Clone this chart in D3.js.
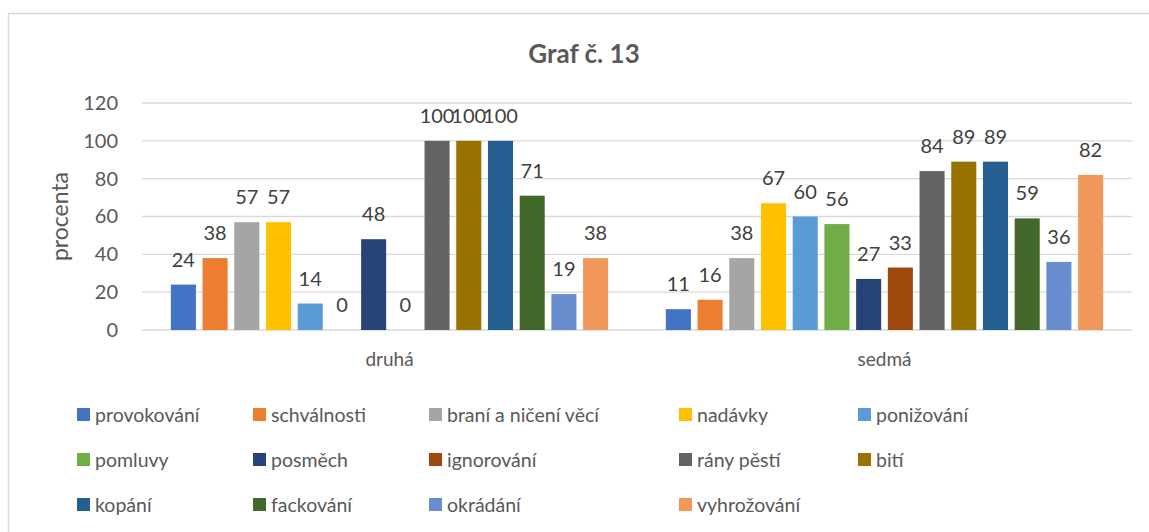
<!DOCTYPE html>
<html>
<head>
<meta charset="utf-8">
<script src="https://cdn.jsdelivr.net/npm/d3@7"></script>
<style>
  body { margin: 0; background: #fff; overflow: hidden; }
  svg { display: block; }
  svg text { font-family: Lato, "Open Sans", sans-serif; fill: #595959; }
</style>
</head>
<body>
<div id="chart"></div>
<script>
// data
const categories = ["druhá", "sedmá"];
const seriesNames = ["provokování", "schválnosti", "braní a ničení věcí", "nadávky", "ponižování",
  "pomluvy", "posměch", "ignorování", "rány pěstí", "bití",
  "kopání", "fackování", "okrádání", "vyhrožování"];
const druhaValues = [24, 38, 57, 57, 14, 0, 48, 0, 100, 100, 100, 71, 19, 38];
const sedmaValues = [11, 16, 38, 67, 60, 56, 27, 33, 84, 89, 89, 59, 36, 82];
const yTicks = [0, 20, 40, 60, 80, 100, 120];

const colors = ["#4472C4", "#ED7D31", "#A5A5A5", "#FFC000", "#5B9BD5",
  "#70AD47", "#264478", "#9E480E", "#636363", "#997300",
  "#255E91", "#43682B", "#698ED0", "#F1975A"];

const rows = categories.map((c, i) => ({
  category: c,
  values: (i === 0 ? druhaValues : sedmaValues)
}));

const width = 1149, height = 532;
const margin = { top: 103, right: 17, bottom: 202, left: 142 };
const innerWidth = width - margin.left - margin.right;
const innerHeight = height - margin.top - margin.bottom;

const svg = d3.select("#chart").append("svg")
  .attr("width", width)
  .attr("height", height);

// frame
svg.append("path")
  .attr("d", `M8.5,${height} V13.5 H${width}`)
  .attr("fill", "none")
  .attr("stroke", "#d9d9d9")
  .attr("stroke-width", 1.5);

const chart = svg.append("g")
  .attr("transform", `translate(${margin.left},${margin.top})`);

// scales
const x0 = d3.scaleBand()
  .domain(categories)
  .range([0, innerWidth]);

const x1 = d3.scaleBand()
  .domain(seriesNames)
  .range([0, x0.bandwidth()])
  .paddingInner(0.21)
  .paddingOuter(0.91);

const y = d3.scaleLinear()
  .domain([0, 120])
  .range([innerHeight, 0]);

const color = d3.scaleOrdinal()
  .domain(seriesNames)
  .range(colors);

// gridlines
chart.selectAll(".grid")
  .data(yTicks)
  .enter()
  .append("line")
  .attr("x1", 0)
  .attr("x2", innerWidth)
  .attr("y1", d => y(d))
  .attr("y2", d => y(d))
  .attr("stroke", "#d9d9d9")
  .attr("stroke-width", 1.3);

// y axis labels
const yAxis = d3.axisLeft(y).tickValues(yTicks).tickSize(0).tickPadding(24);
const yG = chart.append("g").call(yAxis);
yG.select(".domain").remove();
yG.selectAll("text")
  .style("font-size", "20px")
  .attr("fill", "#595959");

// x axis labels
const xAxis = d3.axisBottom(x0).tickSize(0).tickPadding(23);
const xG = chart.append("g")
  .attr("transform", `translate(0,${innerHeight})`)
  .call(xAxis);
xG.select(".domain").remove();
xG.selectAll("text")
  .style("font-size", "19px")
  .attr("fill", "#595959");

// bars
const groups = chart.selectAll(".group")
  .data(rows)
  .enter()
  .append("g")
  .attr("transform", d => `translate(${x0(d.category)},0)`);

groups.selectAll("rect")
  .data(d => d.values.map((v, i) => ({ name: seriesNames[i], value: v })))
  .enter()
  .append("rect")
  .attr("x", d => x1(d.name))
  .attr("y", d => y(d.value))
  .attr("width", x1.bandwidth())
  .attr("height", d => innerHeight - y(d.value))
  .attr("fill", d => color(d.name));

groups.selectAll(".label")
  .data(d => d.values.map((v, i) => ({ name: seriesNames[i], value: v })))
  .enter()
  .append("text")
  .attr("class", "label")
  .attr("x", d => x1(d.name) + x1.bandwidth() / 2)
  .attr("y", d => y(d.value) - 18)
  .attr("text-anchor", "middle")
  .style("font-size", "20px")
  .style("fill", "#404040")
  .text(d => d.value);

// y title
svg.append("text")
  .attr("transform", `translate(68,${margin.top + innerHeight / 2}) rotate(-90)`)
  .attr("text-anchor", "middle")
  .style("font-size", "23px")
  .text("procenta");

// title
svg.append("text")
  .attr("x", 584)
  .attr("y", 63)
  .attr("text-anchor", "middle")
  .style("font-size", "26px")
  .style("font-weight", "bold")
  .text("Graf č. 13");

// legend
const colX = [77, 253, 429, 679, 858];
const legend = svg.append("g");
const items = legend.selectAll(".item")
  .data(seriesNames)
  .enter()
  .append("g")
  .attr("transform", (d, i) => `translate(${colX[i % 5]},${415 + Math.floor(i / 5) * 45})`);

items.append("rect")
  .attr("x", 0)
  .attr("y", -7)
  .attr("width", 13)
  .attr("height", 13)
  .attr("fill", d => color(d));

items.append("text")
  .attr("x", 18)
  .attr("y", 0)
  .attr("dy", "0.35em")
  .style("font-size", "19.5px")
  .text(d => d);
</script>
</body>
</html>
